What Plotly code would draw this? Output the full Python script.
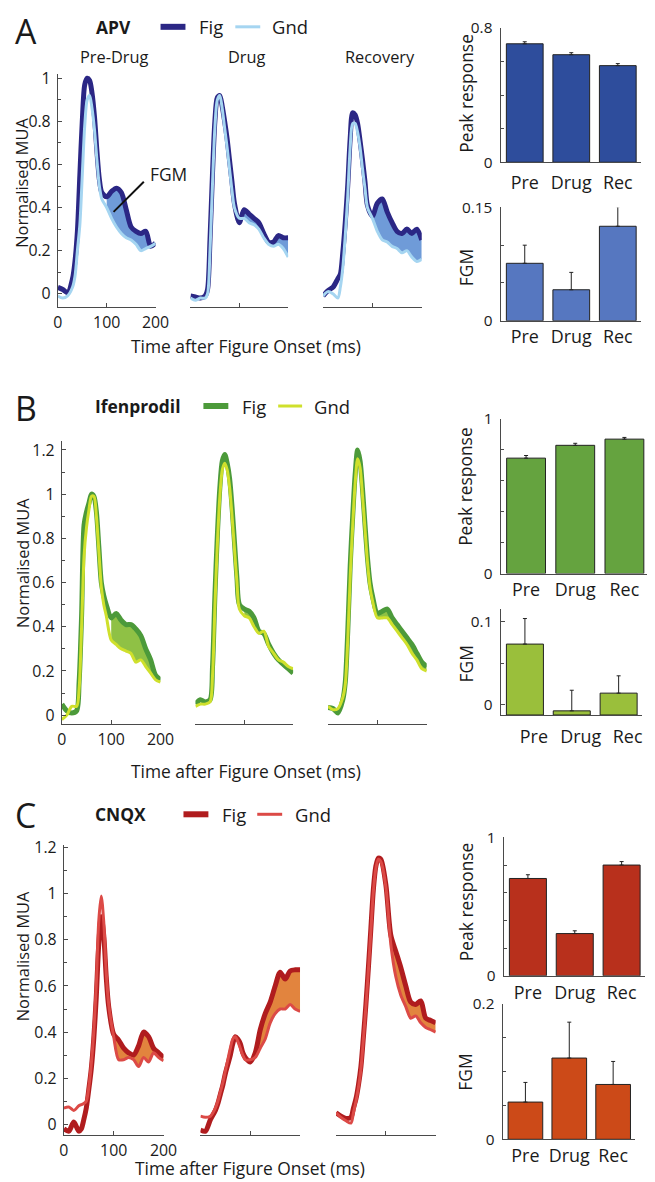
import plotly.graph_objects as go

W, H = 655, 1182
# the page shows the figure slightly shrunk and offset; positions below are given in
# picture pixels and mapped back onto the figure
SX, SY = 0.974, 0.98
OX, OY = 12.0, 19.2
FONT = "Open Sans"
TEXT = "#1a1a1a"
AXIS = "#4a4a4a"

# time base of the MUA traces (ms after figure onset)
T_MS = [0, 10, 20, 30, 35, 40, 45, 50, 55, 60, 65, 70, 75, 80, 85, 90,
        100, 110, 120, 130, 140, 150, 160, 170, 180, 190, 200]
FILL_FROM = 100  # figure-ground modulation window shaded from here on

# A: APV
APV_PRE_FIG = [0.03, 0.02, 0.005, 0.07, 0.15, 0.29, 0.55, 0.80, 0.97, 1.0, 0.99, 0.93, 0.82, 0.66,
               0.53, 0.47, 0.45, 0.475, 0.49, 0.47, 0.39, 0.31, 0.29, 0.28, 0.29, 0.22, 0.235]
APV_PRE_GND = [-0.01, -0.02, -0.01, 0.03, 0.08, 0.20, 0.32, 0.55, 0.78, 0.90, 0.92, 0.86, 0.76, 0.62,
               0.50, 0.44, 0.40, 0.35, 0.31, 0.28, 0.26, 0.25, 0.23, 0.20, 0.21, 0.22, 0.235]
APV_DRUG_FIG = [-0.01, -0.015, -0.02, -0.01, 0.02, 0.25, 0.55, 0.80, 0.91, 0.92, 0.87, 0.80, 0.72, 0.62,
                0.52, 0.42, 0.33, 0.39, 0.37, 0.35, 0.33, 0.28, 0.24, 0.24, 0.27, 0.26, 0.26]
APV_DRUG_GND = [-0.02, -0.03, -0.02, -0.02, 0.0, 0.20, 0.50, 0.77, 0.90, 0.92, 0.86, 0.77, 0.68, 0.58,
                0.48, 0.40, 0.35, 0.35, 0.33, 0.32, 0.30, 0.26, 0.23, 0.22, 0.23, 0.21, 0.17]
APV_REC_FIG = [-0.01, 0.015, 0.03, 0.07, 0.09, 0.19, 0.33, 0.50, 0.72, 0.84, 0.83, 0.79, 0.71, 0.62,
               0.52, 0.41, 0.36, 0.42, 0.44, 0.38, 0.33, 0.29, 0.28, 0.30, 0.28, 0.30, 0.25]
APV_REC_GND = [-0.01, 0.01, 0.0, -0.02, 0.03, 0.12, 0.27, 0.45, 0.68, 0.79, 0.79, 0.75, 0.68, 0.58,
               0.49, 0.40, 0.35, 0.29, 0.25, 0.24, 0.22, 0.21, 0.19, 0.20, 0.17, 0.15, 0.16]

# B: Ifenprodil
IFEN_PRE_FIG = [0.05, 0.02, 0.01, 0.02, 0.15, 0.45, 0.86, 0.92, 0.96, 1.0, 0.99, 0.92, 0.76, 0.60,
                0.54, 0.50, 0.44, 0.46, 0.43, 0.41, 0.41, 0.39, 0.36, 0.30, 0.25, 0.18, 0.16]
IFEN_PRE_GND = [-0.02, 0.0, 0.04, 0.04, 0.12, 0.40, 0.72, 0.85, 0.93, 0.99, 0.99, 0.90, 0.74, 0.58,
                0.50, 0.45, 0.34, 0.32, 0.30, 0.29, 0.28, 0.24, 0.25, 0.22, 0.19, 0.16, 0.15]
IFEN_DRUG_FIG = [0.05, 0.07, 0.06, 0.07, 0.22, 0.55, 0.82, 1.03, 1.15, 1.18, 1.14, 1.07, 0.94, 0.78,
                 0.62, 0.50, 0.48, 0.47, 0.44, 0.38, 0.37, 0.32, 0.28, 0.25, 0.23, 0.21, 0.19]
IFEN_DRUG_GND = [0.04, 0.05, 0.05, 0.06, 0.18, 0.50, 0.78, 0.99, 1.11, 1.14, 1.11, 1.03, 0.90, 0.75,
                 0.60, 0.48, 0.45, 0.44, 0.40, 0.37, 0.38, 0.31, 0.28, 0.25, 0.24, 0.22, 0.21]
IFEN_REC_FIG = [0.035, 0.03, 0.01, 0.07, 0.15, 0.38, 0.68, 0.90, 1.09, 1.20, 1.15, 1.02, 0.86, 0.71,
                0.60, 0.54, 0.46, 0.47, 0.48, 0.44, 0.41, 0.38, 0.35, 0.32, 0.28, 0.24, 0.22]
IFEN_REC_GND = [0.04, 0.025, 0.03, 0.08, 0.14, 0.34, 0.63, 0.86, 1.05, 1.16, 1.12, 0.99, 0.84, 0.69,
                0.58, 0.52, 0.44, 0.44, 0.44, 0.41, 0.38, 0.35, 0.32, 0.28, 0.25, 0.21, 0.20]

# C: CNQX
CNQX_PRE_FIG = [-0.02, -0.03, 0.01, -0.03, -0.02, 0.02, 0.07, 0.15, 0.24, 0.37, 0.55, 0.78, 0.90, 0.82,
                0.64, 0.51, 0.39, 0.365, 0.33, 0.31, 0.30, 0.34, 0.40, 0.38, 0.33, 0.31, 0.29]
CNQX_PRE_GND = [0.07, 0.075, 0.06, 0.08, 0.085, 0.09, 0.10, 0.16, 0.26, 0.40, 0.60, 0.88, 0.99, 0.88,
                0.66, 0.52, 0.38, 0.28, 0.28, 0.29, 0.28, 0.25, 0.29, 0.27, 0.31, 0.29, 0.275]
CNQX_DRUG_FIG = [-0.025, -0.03, 0.02, 0.06, 0.09, 0.13, 0.17, 0.22, 0.26, 0.30, 0.35, 0.38, 0.37, 0.35,
                 0.31, 0.29, 0.27, 0.31, 0.41, 0.48, 0.53, 0.60, 0.66, 0.63, 0.665, 0.67, 0.67]
CNQX_DRUG_GND = [0.035, 0.03, 0.035, 0.07, 0.10, 0.14, 0.18, 0.23, 0.28, 0.33, 0.37, 0.38, 0.36, 0.33,
                 0.30, 0.28, 0.28, 0.29, 0.33, 0.37, 0.44, 0.48, 0.50, 0.50, 0.52, 0.50, 0.49]
CNQX_REC_FIG = [0.05, 0.035, 0.025, 0.03, 0.07, 0.11, 0.17, 0.25, 0.38, 0.52, 0.68, 0.85, 1.02, 1.12,
                1.155, 1.15, 1.04, 0.82, 0.75, 0.68, 0.60, 0.53, 0.52, 0.535, 0.46, 0.45, 0.44]
CNQX_REC_GND = [0.05, 0.03, 0.015, 0.005, 0.05, 0.10, 0.16, 0.24, 0.37, 0.51, 0.67, 0.84, 1.01, 1.11,
                1.15, 1.14, 1.03, 0.78, 0.64, 0.56, 0.51, 0.46, 0.47, 0.44, 0.42, 0.41, 0.40]

# bar summaries
CONDITIONS = ["Pre", "Drug", "Rec"]
APV_PEAK = [0.705, 0.64, 0.575]
APV_PEAK_ERR = [0.012, 0.012, 0.012]
APV_FGM = [0.076, 0.041, 0.125]
APV_FGM_ERR = [0.024, 0.023, 0.026]
IFEN_PEAK = [0.747, 0.83, 0.87]
IFEN_PEAK_ERR = [0.017, 0.013, 0.011]
IFEN_FGM = [0.073, -0.008, 0.0135]
IFEN_FGM_ERR = [0.031, 0.025, 0.021]
CNQX_PEAK = [0.703, 0.305, 0.80]
CNQX_PEAK_ERR = [0.027, 0.02, 0.025]
CNQX_FGM = [0.055, 0.12, 0.081]
CNQX_FGM_ERR = [0.029, 0.053, 0.034]

COLUMN_TITLES = ["Pre-Drug", "Drug", "Recovery"]

PANELS = [
    dict(letter="A", drug="APV", letter_y=31, head_y=27, drug_x=93,
         legend=(160, 185, 197, 235, 260, 270),
         fig_c="#2b2785", gnd_c="#a5d5f1", fill_c="#6f9bd8", peak_c="#2e4d9c", fgm_c="#5677c0",
         curves=[(APV_PRE_FIG, APV_PRE_GND), (APV_DRUG_FIG, APV_DRUG_GND), (APV_REC_FIG, APV_REC_GND)],
         cols=[(57, 155), (190, 288), (323, 422)], rows=(74, 306), yrange=[-0.06, 1.02],
         yticks=[0, 0.2, 0.4, 0.6, 0.8, 1.0], xlab_y=345, xlab_x=246, ylab_y=182,
         peak=(APV_PEAK, APV_PEAK_ERR, (502, 642), (28, 162), [0, 0.8], 0.2, 93, 4),
         fgm=(APV_FGM, APV_FGM_ERR, (502, 642), (207, 320), [0, 0.15], 0.05, 267, 0, 0)),
    dict(letter="B", drug="Ifenprodil", letter_y=407, head_y=405, drug_x=92,
         legend=(203, 228, 240, 278, 302, 312),
         fig_c="#4c9a3a", gnd_c="#cfe02c", fill_c="#8fc145", peak_c="#65a33f", fgm_c="#9abf3b",
         curves=[(IFEN_PRE_FIG, IFEN_PRE_GND), (IFEN_DRUG_FIG, IFEN_DRUG_GND), (IFEN_REC_FIG, IFEN_REC_GND)],
         cols=[(61, 160), (195, 293), (328, 427)], rows=(440, 722), yrange=[-0.04, 1.24],
         yticks=[0, 0.2, 0.4, 0.6, 0.8, 1.0, 1.2], xlab_y=769, xlab_x=246, ylab_y=561,
         peak=(IFEN_PEAK, IFEN_PEAK_ERR, (502, 652), (418, 572), [0, 1], 0.2, 485, 0),
         fgm=(IFEN_FGM, IFEN_FGM_ERR, (502, 643), (607, 713), [-0.013, 0.116], 0.05, 662, 6, 9)),
    dict(letter="C", drug="CNQX", letter_y=813, head_y=812, drug_x=92,
         legend=(183, 208, 220, 257, 282, 293),
         fig_c="#b01c1e", gnd_c="#dc4a46", fill_c="#e2843e", peak_c="#b8301c", fgm_c="#cc4a18",
         curves=[(CNQX_PRE_FIG, CNQX_PRE_GND), (CNQX_DRUG_FIG, CNQX_DRUG_GND), (CNQX_REC_FIG, CNQX_REC_GND)],
         cols=[(63, 163), (200, 300), (336, 436)], rows=(843, 1132), yrange=[-0.048, 1.21],
         yticks=[0, 0.2, 0.4, 0.6, 0.8, 1.0, 1.2], xlab_y=1165, xlab_x=250, ylab_y=953,
         peak=(CNQX_PEAK, CNQX_PEAK_ERR, (505, 646), (835, 973), [0, 1], 0.2, 899, 1),
         fgm=(CNQX_FGM, CNQX_FGM_ERR, (504, 636), (1001, 1136), [0, 0.2], 0.05, 1069, 0, 0)),
]

fig = go.Figure()
layout = {}
annotations = []
shapes = []
n_axes = 0


def px_x(p):
    return (p - OX) / SX / W


def px_y(p):
    return 1 - (p - OY) / SY / H


def fs(size):
    return size / 0.977


def clamp(v):
    return min(1.0, max(0.0, v))


def text(s, x, y, size, xanchor="center", angle=0, bold=False):
    annotations.append(dict(
        text=f"<b>{s}</b>" if bold else s, x=clamp(px_x(x)), y=px_y(y), xref="paper", yref="paper",
        xanchor=xanchor, yanchor="middle", showarrow=False, textangle=angle,
        font=dict(family=FONT, size=fs(size), color=TEXT)))


def add_axes(xpx, ypx):
    global n_axes
    n_axes += 1
    s = "" if n_axes == 1 else str(n_axes)
    layout["xaxis" + s] = dict(domain=[clamp(px_x(xpx[0])), clamp(px_x(xpx[1]))], anchor="y" + s)
    layout["yaxis" + s] = dict(domain=[clamp(px_y(ypx[1])), clamp(px_y(ypx[0]))], anchor="x" + s)
    return s


def fmt(v):
    return f"{v:g}"


for p in PANELS:
    # header
    text(p["letter"], OX, p["letter_y"], 33, xanchor="left")
    text(p["drug"], p["drug_x"], p["head_y"], 17, xanchor="left", bold=True)
    fx0, fx1, ftx, gx0, gx1, gtx = p["legend"]
    shapes.append(dict(type="line", xref="paper", yref="paper", x0=px_x(fx0), x1=px_x(fx1),
                       y0=px_y(p["head_y"]), y1=px_y(p["head_y"]), line=dict(color=p["fig_c"], width=6)))
    shapes.append(dict(type="line", xref="paper", yref="paper", x0=px_x(gx0), x1=px_x(gx1),
                       y0=px_y(p["head_y"]), y1=px_y(p["head_y"]), line=dict(color=p["gnd_c"], width=3)))
    text("Fig", ftx, p["head_y"], 18, xanchor="left")
    text("Gnd", gtx, p["head_y"], 18, xanchor="left")

    # MUA traces
    lo = T_MS.index(FILL_FROM)
    for i, ((fig_y, gnd_y), cols) in enumerate(zip(p["curves"], p["cols"])):
        s = add_axes(cols, p["rows"])
        xa, ya = "x" + s, "y" + s
        fig.add_trace(go.Scatter(x=T_MS[lo:], y=gnd_y[lo:], mode="lines", xaxis=xa, yaxis=ya,
                                 line=dict(width=0, shape="spline"), hoverinfo="skip"))
        fig.add_trace(go.Scatter(x=T_MS[lo:], y=fig_y[lo:], mode="lines", xaxis=xa, yaxis=ya,
                                 line=dict(width=0, shape="spline"), fill="tonexty",
                                 fillcolor=p["fill_c"], hoverinfo="skip"))
        fig.add_trace(go.Scatter(x=T_MS, y=fig_y, mode="lines", xaxis=xa, yaxis=ya, name="Fig",
                                 line=dict(color=p["fig_c"], width=5, shape="spline", smoothing=0.8)))
        fig.add_trace(go.Scatter(x=T_MS, y=gnd_y, mode="lines", xaxis=xa, yaxis=ya, name="Gnd",
                                 line=dict(color=p["gnd_c"], width=3, shape="spline", smoothing=0.8)))
        first = i == 0
        layout["xaxis" + s].update(
            range=[0, 200], showline=True, linecolor=AXIS, linewidth=1, ticks="inside",
            ticklen=4, tickcolor=AXIS, tickvals=[0, 100, 200], showticklabels=first,
            ticklabelstandoff=1, tickfont=dict(family=FONT, size=fs(15.5), color=TEXT),
            showgrid=False, zeroline=False, fixedrange=True)
        if first:
            layout["yaxis" + s].update(
                range=p["yrange"], showline=True, linecolor=AXIS, linewidth=1, ticks="inside",
                ticklen=4, tickcolor=AXIS, tickvals=p["yticks"], ticktext=[fmt(v) for v in p["yticks"]],
                minor=dict(dtick=0.1, tick0=0, ticks="inside", ticklen=3, tickcolor=AXIS),
                ticklabelstandoff=3, tickfont=dict(family=FONT, size=fs(15.5), color=TEXT),
                showgrid=False, zeroline=False, fixedrange=True)
        else:
            layout["yaxis" + s].update(range=p["yrange"], visible=False, fixedrange=True)
        if p["letter"] == "A":
            text(COLUMN_TITLES[i], (cols[0] + cols[1]) / 2 + 8, 57, 16)
            if first:
                shapes.append(dict(type="line", xref=xa, yref=ya, x0=114, y0=0.38, x1=176, y1=0.52,
                                   line=dict(color="#111111", width=2)))
                annotations.append(dict(text="FGM", x=184, y=0.555, xref=xa, yref=ya, showarrow=False,
                                        xanchor="left", font=dict(family=FONT, size=fs(17), color=TEXT)))

    text("Time after Figure Onset (ms)", p["xlab_x"], p["xlab_y"], 17)
    text("Normalised MUA", 21.5, p["ylab_y"], 16, angle=-90)

    # bar summaries
    for key, title in (("peak", "Peak response"), ("fgm", "FGM")):
        spec = p[key]
        vals, errs, xpx, ypx, yr, minor_step, title_y, standoff = spec[:8]
        shift = spec[8] if len(spec) > 8 else 0
        s = add_axes(xpx, ypx)
        base = yr[0]
        fig.add_trace(go.Bar(
            x=CONDITIONS, y=[v - base for v in vals], base=base, width=0.79,
            xaxis="x" + s, yaxis="y" + s,
            marker=dict(color=p[key + "_c"], line=dict(color="#222222", width=1)),
            error_y=dict(type="data", array=errs, arrayminus=[0, 0, 0], symmetric=False,
                         color="#222222", thickness=1, width=2)))
        layout["xaxis" + s].update(
            type="category", range=[-0.5, 2.5], showline=True, linecolor=AXIS, linewidth=1,
            ticks="", ticklabelstandoff=standoff, ticklabelshift=shift,
            tickfont=dict(family=FONT, size=fs(17.5), color=TEXT), showgrid=False, zeroline=False,
            fixedrange=True)
        top = yr[1] if yr[0] == 0 else 0.1
        lab = [0, top]
        layout["yaxis" + s].update(
            range=yr, showline=True, linecolor=AXIS, linewidth=1, ticks="inside", ticklen=4,
            tickcolor=AXIS, tickvals=lab, ticktext=[fmt(v) for v in lab],
            minor=dict(dtick=minor_step, tick0=0, ticks="inside", ticklen=3, tickcolor=AXIS),
            ticklabelstandoff=5, tickfont=dict(family=FONT, size=fs(15), color=TEXT),
            showgrid=False, zeroline=False, fixedrange=True)
        text(title, 466, title_y, 17, angle=-90)

layout.update(
    width=W, height=H, margin=dict(l=0, r=0, t=0, b=0),
    paper_bgcolor="white", plot_bgcolor="rgba(0,0,0,0)",
    showlegend=False, font=dict(family=FONT, color=TEXT),
    annotations=annotations, shapes=shapes, bargap=0.2,
)
fig.update_layout(layout)
fig.write_html("out.html")
